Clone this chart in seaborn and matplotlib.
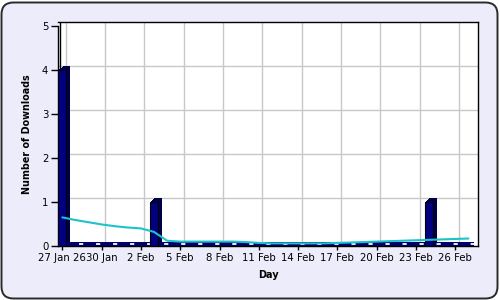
import matplotlib
matplotlib.use("Agg")
import matplotlib.pyplot as plt
import matplotlib.patheffects as pe
from matplotlib.patches import FancyBboxPatch
from matplotlib.transforms import IdentityTransform
import seaborn as sns
import numpy as np
import pandas as pd

# ---- data ----
days = list(range(32))  # 27 Jan .. 27 Feb
downloads = [4, 0, 0, 0, 0, 0, 0, 1, 0, 0, 0, 0, 0, 0, 0, 0,
             0, 0, 0, 0, 0, 0, 0, 0, 0, 0, 0, 0, 1, 0, 0, 0]
trend = [0.65, 0.59, 0.54, 0.49, 0.45, 0.42, 0.40, 0.32, 0.12, 0.10, 0.10,
         0.10, 0.10, 0.10, 0.09, 0.07, 0.06, 0.06, 0.06, 0.06, 0.06, 0.07,
         0.08, 0.09, 0.10, 0.11, 0.12, 0.13, 0.14, 0.15, 0.16, 0.17]
tick_days = [0, 3, 6, 9, 12, 15, 18, 21, 24, 27, 30]
tick_labels = ["27 Jan 26", "30 Jan", "2 Feb", "5 Feb", "8 Feb", "11 Feb",
               "14 Feb", "17 Feb", "20 Feb", "23 Feb", "26 Feb"]
y_ticks = [0, 1, 2, 3, 4, 5]

df = pd.DataFrame({"day": days, "downloads": downloads, "trend": trend})

sns.set_style("white")
plt.rcParams["font.family"] = ["DejaVu Sans"]

fig = plt.figure(figsize=(5, 3), dpi=100)
fig.patch.set_facecolor("white")
bg = FancyBboxPatch((1.5, 1.5), 496, 296,
                    boxstyle="round,pad=0,rounding_size=12",
                    transform=IdentityTransform(),
                    facecolor="#ececfb", edgecolor="#2a2a2a", linewidth=1.4,
                    zorder=-10)
fig.patches.append(bg)
bg.set_figure(fig)

ax = fig.add_axes([58 / 500, 54 / 300, 420 / 500, 224 / 300])
ax.set_facecolor("white")

# gridlines (drawn on the back wall, slightly offset)
for t in tick_days:
    ax.axvline(t + 0.27, color="#c8c8c8", lw=1, zorder=0)
for yv in y_ticks[1:-1]:
    ax.axhline(yv + 0.08, color="#c8c8c8", lw=1, zorder=0)
# back wall left edge
ax.axvline(-0.18, color="black", lw=1, zorder=1)

# floor strip
ax.fill_between([-0.33, 31.45], 0, 0.1, color="#000070", zorder=2, lw=0)
ax.plot([-0.05, 31.45], [0.055, 0.055], color="white", lw=1.3,
        dashes=(2.3, 7.13), zorder=2.5, solid_capstyle="butt",
        dash_capstyle="butt")

# bars
sns.barplot(data=df, x="day", y="downloads", native_scale=True, width=0.6,
            color="#000080", saturation=1, edgecolor="black", linewidth=0.8,
            ax=ax, zorder=3)
shadows = [pe.SimplePatchShadow(offset=(o, o), shadow_rgbFace="#000048", alpha=1)
           for o in (0.75, 1.5, 2.25, 3.0)]
for p in ax.patches:
    p.set_path_effects(shadows + [pe.Normal()])
    p.set_zorder(3)

# trend line
sns.lineplot(data=df, x="day", y="trend", color="#1cc3c8", lw=1.5, ax=ax,
             zorder=4)

ax.set_xlim(-0.33, 31.73)
ax.set_ylim(0, 5.09)
ax.set_xticks(tick_days)
ax.set_xticklabels(tick_labels)
ax.set_yticks(y_ticks)
ax.tick_params(axis="x", direction="out", length=3, width=1, pad=2,
               labelsize=7.3, colors="black", bottom=True)
ax.tick_params(axis="y", direction="out", length=5, width=1, pad=2,
               labelsize=7.3, colors="black", left=True)
for s in ax.spines.values():
    s.set_visible(True)
    s.set_color("black")
    s.set_linewidth(1)
ax.spines["left"].set_bounds(0, 5)

ax.set_xlabel("Day", fontsize=7, fontweight="bold", labelpad=5, color="black")
ax.set_ylabel("Number of Downloads", fontsize=6.9, fontweight="bold",
              labelpad=7, color="black")
ax.grid(False)

fig.savefig("out.png", dpi=100)
